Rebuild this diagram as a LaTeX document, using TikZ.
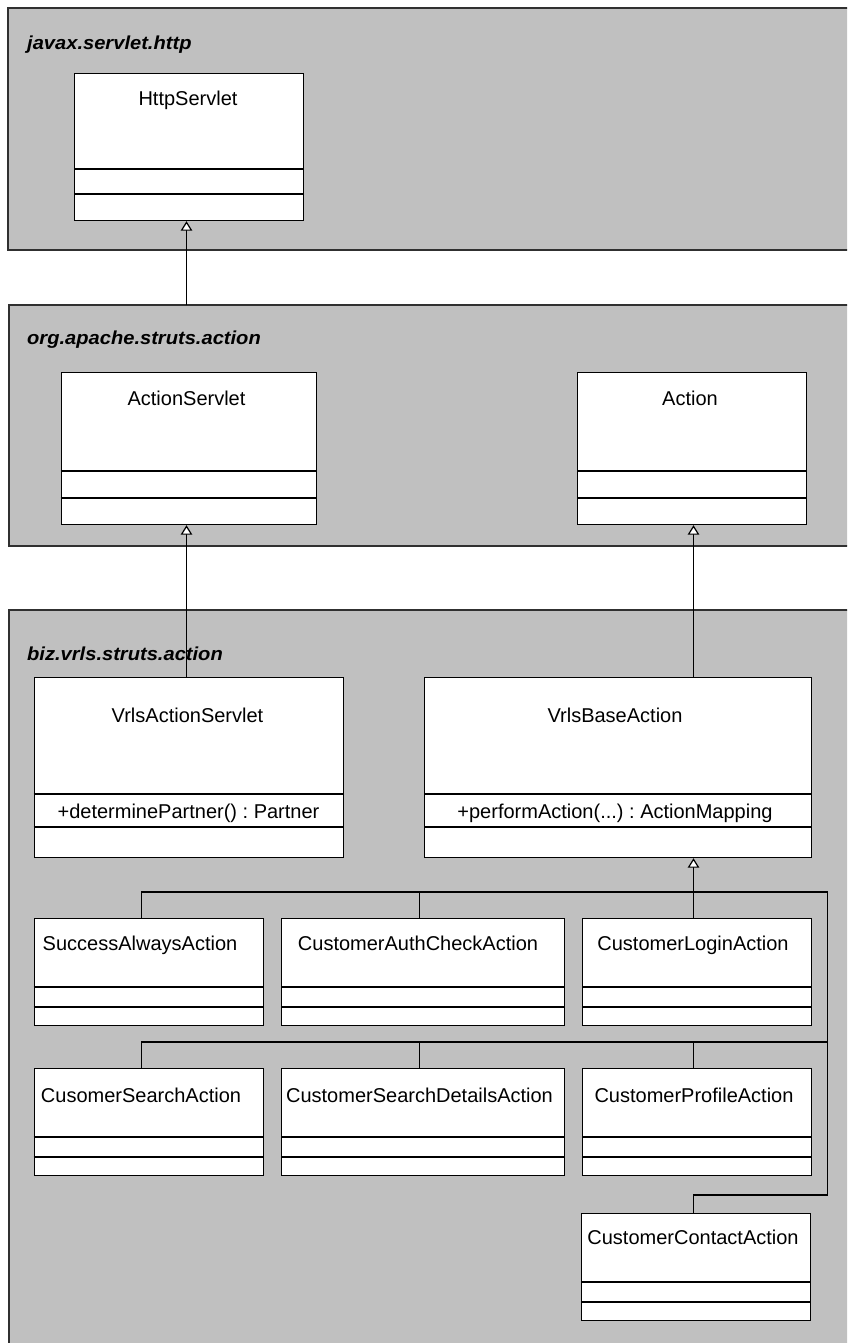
\documentclass[tikz,border=0pt]{standalone}
\usepackage{fontspec}
\setmainfont{Liberation Sans}
\newfontfamily\pkgfont{Liberation Sans}[FakeStretch=1.07]
\usetikzlibrary{arrows.meta}
\definecolor{pkgfill}{HTML}{C0C0C0}
\definecolor{pkgline}{HTML}{303030}
\tikzset{
 pkg/.style={fill=pkgfill, draw=pkgline, line width=1.4pt},
 pkglabel/.style={anchor=base west, inner sep=0pt, font=\pkgfont\fontsize{18.8}{22}\selectfont\bfseries\itshape},
 cls/.style={draw=black, fill=white, line width=1.2pt, inner sep=0pt, anchor=north west},
 divider/.style={draw=black, line width=1.2pt},
 clsname/.style={anchor=base, inner sep=0pt, font=\fontsize{20}{24}\selectfont},
 gen/.style={draw=black, line width=1.2pt, -{Triangle[length=9.5pt,width=11.5pt,fill=white]}},
 tree/.style={draw=black, line width=1.2pt},
}
\newcommand\umlbox[7]{%
 \node[cls, minimum width=#4pt, minimum height=#5pt] (#1) at (#2,#3) {};
 \draw[divider] ([yshift=-#6pt]#1.north west) -- ([yshift=-#6pt]#1.north east);
 \draw[divider] ([yshift=-#7pt]#1.north west) -- ([yshift=-#7pt]#1.north east);
}
\frenchspacing
\begin{document}
\begin{tikzpicture}[x=1pt,y=-1pt]
\clip (0,0) rectangle (847,1343);
\fill[white] (0,0) rectangle (847,1343);
% packages
\path[pkg] (8,8) rectangle (870,250);
\path[pkg] (9,305) rectangle (870,546);
\path[pkg] (9,610) rectangle (870,1380);
\node[pkglabel] (lbl1) at (27,50) {javax.servlet.http};
\node[pkglabel] (lbl2) at (27,344) {org.apache.struts.action};
\node[pkglabel] (lbl3) at (27,660) {biz.vrls.struts.action};
% classes
\umlbox{http}{74}{73}{229}{147}{96}{121}
\node[clsname] (http-t) at (188,106) {HttpServlet};
\umlbox{aserv}{60.5}{372}{255.5}{152}{99}{126}
\node[clsname] (aserv-t) at (186.5,405) {ActionServlet};
\umlbox{action}{577}{372}{229}{152}{99}{126}
\node[clsname] (action-t) at (690,405) {Action};
\umlbox{vserv}{33.5}{677}{309.5}{180}{117}{150}
\node[clsname] (vserv-t) at (187.5,722) {VrlsActionServlet};
\node[clsname] (vserv-m) at (188.5,818) {+determinePartner() : Partner};
\umlbox{vbase}{424}{677}{387}{180}{117}{150}
\node[clsname] (vbase-t) at (615,722) {VrlsBaseAction};
\node[clsname] (vbase-m) at (615,818) {+performAction(...) : ActionMapping};
% row 1
\umlbox{succ}{33.5}{918}{229}{107}{69}{89}
\node[clsname] (succ-t) at (140,950) {SuccessAlwaysAction};
\umlbox{auth}{281}{918}{283}{107}{69}{89}
\node[clsname] (auth-t) at (418,950) {CustomerAuthCheckAction};
\umlbox{login}{582}{918}{229}{107}{69}{89}
\node[clsname] (login-t) at (693,950) {CustomerLoginAction};
% row 2
\umlbox{search}{33.5}{1068}{229}{107}{69}{89}
\node[clsname] (search-t) at (141,1102) {CusomerSearchAction};
\umlbox{details}{281}{1068}{283}{107}{69}{89}
\node[clsname] (details-t) at (419.5,1102) {CustomerSearchDetailsAction};
\umlbox{profile}{582}{1068}{229}{107}{69}{89}
\node[clsname] (profile-t) at (694,1102) {CustomerProfileAction};
% row 3
\umlbox{contact}{581}{1213}{229}{107}{69}{89}
\node[clsname] (contact-t) at (693,1244) {CustomerContactAction};
% generalizations
\coordinate (p2top) at (186.5,305);
\draw[gen] (p2top) -- (p2top |- http.south);
\coordinate (sx) at (186.5,677);
\draw[gen] (sx) -- (sx |- aserv.south);
\coordinate (ax) at (693.5,677);
\draw[gen] (ax) -- (ax |- action.south);
% tree
\coordinate (h1L) at (141.6,892);
\coordinate (h1M) at (419.5,892);
\coordinate (h1T) at (693.5,892);
\coordinate (h1R) at (827.5,892);
\coordinate (h2L) at (141.6,1042);
\coordinate (h2M) at (419.5,1042);
\coordinate (h2T) at (693.5,1042);
\coordinate (h2R) at (827.5,1042);
\coordinate (h3T) at (693.5,1195);
\coordinate (h3R) at (827.5,1195);
\draw[gen] (h1T) -- (h1T |- vbase.south);
\draw[tree] (h1L |- succ.north) -- (h1L) -- (h1R) -- (h3R) -- (h3T) -- (h3T |- contact.north);
\draw[tree] (h1M) -- (h1M |- auth.north);
\draw[tree] (h1T) -- (h1T |- login.north);
\draw[tree] (h2L |- search.north) -- (h2L) -- (h2R);
\draw[tree] (h2M) -- (h2M |- details.north);
\draw[tree] (h2T) -- (h2T |- profile.north);
\end{tikzpicture}
\end{document}
